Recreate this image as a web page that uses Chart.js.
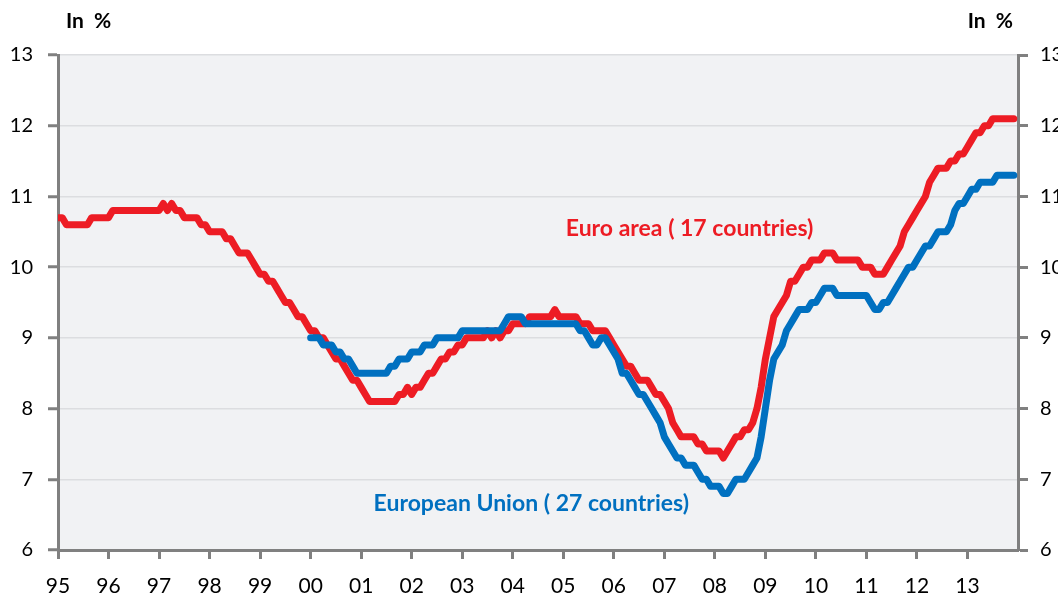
<!DOCTYPE html>
<html>
<head>
<meta charset="utf-8">
<script src="https://cdn.jsdelivr.net/npm/chart.js@4/dist/chart.umd.min.js"></script>
<style>
  html, body { margin: 0; padding: 0; background: #fff; }
  #wrap { width: 1058px; height: 597px; }
</style>
</head>
<body>
<div id="wrap"><canvas id="unemploymentChart"></canvas></div>
<script>
// Datos mensuales, tasa de paro (%), enero 1995 - diciembre 2013
const yearLabels = ['95', '96', '97', '98', '99', '00', '01', '02', '03', '04',
    '05', '06', '07', '08', '09', '10', '11', '12', '13'];

const euroArea = [
    10.7, 10.7, 10.6, 10.6, 10.6, 10.6, 10.6, 10.6, 10.7, 10.7, 10.7, 10.7, // 95
    10.7, 10.8, 10.8, 10.8, 10.8, 10.8, 10.8, 10.8, 10.8, 10.8, 10.8, 10.8, // 96
    10.8, 10.9, 10.8, 10.9, 10.8, 10.8, 10.7, 10.7, 10.7, 10.7, 10.6, 10.6, // 97
    10.5, 10.5, 10.5, 10.5, 10.4, 10.4, 10.3, 10.2, 10.2, 10.2, 10.1, 10.0, // 98
    9.9, 9.9, 9.8, 9.8, 9.7, 9.6, 9.5, 9.5, 9.4, 9.3, 9.3, 9.2,             // 99
    9.1, 9.1, 9.0, 9.0, 8.9, 8.8, 8.7, 8.7, 8.6, 8.5, 8.4, 8.4,             // 00
    8.3, 8.2, 8.1, 8.1, 8.1, 8.1, 8.1, 8.1, 8.1, 8.2, 8.2, 8.3,             // 01
    8.2, 8.3, 8.3, 8.4, 8.5, 8.5, 8.6, 8.7, 8.7, 8.8, 8.8, 8.9,             // 02
    8.9, 9.0, 9.0, 9.0, 9.0, 9.0, 9.1, 9.0, 9.1, 9.0, 9.1, 9.1,             // 03
    9.2, 9.2, 9.2, 9.2, 9.3, 9.3, 9.3, 9.3, 9.3, 9.3, 9.4, 9.3,             // 04
    9.3, 9.3, 9.3, 9.3, 9.2, 9.2, 9.2, 9.1, 9.1, 9.1, 9.1, 9.0,             // 05
    8.9, 8.8, 8.7, 8.6, 8.6, 8.5, 8.4, 8.4, 8.4, 8.3, 8.2, 8.2,             // 06
    8.1, 8.0, 7.8, 7.7, 7.6, 7.6, 7.6, 7.6, 7.5, 7.5, 7.4, 7.4,             // 07
    7.4, 7.4, 7.3, 7.4, 7.5, 7.6, 7.6, 7.7, 7.7, 7.8, 8.0, 8.3,             // 08
    8.7, 9.0, 9.3, 9.4, 9.5, 9.6, 9.8, 9.8, 9.9, 10.0, 10.0, 10.1,          // 09
    10.1, 10.1, 10.2, 10.2, 10.2, 10.1, 10.1, 10.1, 10.1, 10.1, 10.1, 10.0, // 10
    10.0, 10.0, 9.9, 9.9, 9.9, 10.0, 10.1, 10.2, 10.3, 10.5, 10.6, 10.7,    // 11
    10.8, 10.9, 11.0, 11.2, 11.3, 11.4, 11.4, 11.4, 11.5, 11.5, 11.6, 11.6, // 12
    11.7, 11.8, 11.9, 11.9, 12.0, 12.0, 12.1, 12.1, 12.1, 12.1, 12.1, 12.1  // 13
];

// UE-27 empieza en enero 2000 (mes 60)
const eu27StartMonth = 60;
const eu27 = [
    9.0, 9.0, 9.0, 8.9, 8.9, 8.9, 8.8, 8.8, 8.7, 8.7, 8.6, 8.5,             // 00
    8.5, 8.5, 8.5, 8.5, 8.5, 8.5, 8.5, 8.6, 8.6, 8.7, 8.7, 8.7,             // 01
    8.8, 8.8, 8.8, 8.9, 8.9, 8.9, 9.0, 9.0, 9.0, 9.0, 9.0, 9.0,             // 02
    9.1, 9.1, 9.1, 9.1, 9.1, 9.1, 9.1, 9.1, 9.1, 9.1, 9.2, 9.3,             // 03
    9.3, 9.3, 9.3, 9.2, 9.2, 9.2, 9.2, 9.2, 9.2, 9.2, 9.2, 9.2,             // 04
    9.2, 9.2, 9.2, 9.2, 9.1, 9.1, 9.0, 8.9, 8.9, 9.0, 9.0, 8.9,             // 05
    8.8, 8.7, 8.5, 8.5, 8.4, 8.3, 8.2, 8.2, 8.1, 8.0, 7.9, 7.8,             // 06
    7.6, 7.5, 7.4, 7.3, 7.3, 7.2, 7.2, 7.2, 7.1, 7.0, 7.0, 6.9,             // 07
    6.9, 6.9, 6.8, 6.8, 6.9, 7.0, 7.0, 7.0, 7.1, 7.2, 7.3, 7.6,             // 08
    8.0, 8.4, 8.7, 8.8, 8.9, 9.1, 9.2, 9.3, 9.4, 9.4, 9.4, 9.5,             // 09
    9.5, 9.6, 9.7, 9.7, 9.7, 9.6, 9.6, 9.6, 9.6, 9.6, 9.6, 9.6,             // 10
    9.6, 9.5, 9.4, 9.4, 9.5, 9.5, 9.6, 9.7, 9.8, 9.9, 10.0, 10.0,           // 11
    10.1, 10.2, 10.3, 10.3, 10.4, 10.5, 10.5, 10.5, 10.6, 10.8, 10.9, 10.9, // 12
    11.0, 11.1, 11.1, 11.2, 11.2, 11.2, 11.2, 11.3, 11.3, 11.3, 11.3, 11.3  // 13
];

const FONT = 'Lato, "Open Sans", sans-serif';
const RED = '#ED1C24';
const BLUE = '#0070C0';
const AXIS_GREY = '#808080';

// Fondo del área de gráfico y textos
const chartDecor = {
    id: 'chartDecor',
    beforeDraw(chart) {
        const { ctx, chartArea: a } = chart;
        ctx.save();
        ctx.fillStyle = '#F1F2F4';
        ctx.fillRect(a.left, a.top, a.right - a.left, a.bottom - a.top);
        ctx.restore();
    },
    afterDraw(chart) {
        const { ctx, scales } = chart;
        ctx.save();
        ctx.textBaseline = 'middle';
        ctx.fillStyle = '#000';
        ctx.font = 'bold 21px ' + FONT;
        ctx.textAlign = 'left';
        ctx.fillText('In  %', 66, 21);
        ctx.textAlign = 'right';
        ctx.fillText('In  %', 1013, 21);

        ctx.font = 'bold 23px ' + FONT;
        ctx.textAlign = 'center';
        ctx.fillStyle = RED;
        ctx.fillText('Euro area ( 17 countries)', scales.x.getPixelForValue(150), scales.y.getPixelForValue(10.55));
        ctx.fillStyle = BLUE;
        ctx.fillText('European Union ( 27 countries)', scales.x.getPixelForValue(112.4), scales.y.getPixelForValue(6.66));
        ctx.restore();
    }
};

const yTicks = {
    stepSize: 1,
    color: '#000',
    font: { family: FONT, size: 20 }
};

new Chart(document.getElementById('unemploymentChart'), {
    type: 'line',
    data: {
        datasets: [
            {
                label: 'European Union (27 countries)',
                data: eu27.map((v, k) => ({ x: eu27StartMonth + k, y: v })),
                borderColor: BLUE,
                borderWidth: 7,
                pointRadius: 0,
                borderJoinStyle: 'round',
                borderCapStyle: 'round'
            },
            {
                label: 'Euro area (17 countries)',
                data: euroArea.map((v, i) => ({ x: i, y: v })),
                borderColor: RED,
                borderWidth: 7,
                pointRadius: 0,
                borderJoinStyle: 'round',
                borderCapStyle: 'round'
            }
        ]
    },
    options: {
        responsive: true,
        maintainAspectRatio: false,
        animation: false,
        layout: { padding: { top: 55, left: 0, right: 0, bottom: 0 } },
        plugins: {
            legend: { display: false },
            tooltip: { enabled: false }
        },
        scales: {
            x: {
                type: 'linear',
                min: 0,
                max: 228,
                afterBuildTicks: scale => {
                    scale.ticks = yearLabels.map((_, k) => ({ value: k * 12 }));
                },
                ticks: {
                    autoSkip: false,
                    maxRotation: 0,
                    color: '#000',
                    padding: 15,
                    font: { family: FONT, size: 21 },
                    callback: value => yearLabels[Math.round(value / 12)]
                },
                grid: {
                    drawOnChartArea: false,
                    tickLength: 9,
                    tickColor: AXIS_GREY,
                    tickWidth: 3
                },
                border: { color: AXIS_GREY, width: 3 },
                afterFit: scale => { scale.height = 47; }
            },
            y: {
                position: 'left',
                min: 6,
                max: 13,
                ticks: { ...yTicks, padding: 15 },
                grid: {
                    color: '#DCDDE0',
                    lineWidth: 1.5,
                    tickLength: 10,
                    tickColor: AXIS_GREY,
                    tickWidth: 3
                },
                border: { color: AXIS_GREY, width: 3 },
                afterFit: scale => { scale.width = 58; }
            },
            y2: {
                position: 'right',
                min: 6,
                max: 13,
                ticks: { ...yTicks, padding: 12 },
                grid: {
                    drawOnChartArea: false,
                    tickLength: 10,
                    tickColor: AXIS_GREY,
                    tickWidth: 3
                },
                border: { color: AXIS_GREY, width: 3 },
                afterFit: scale => { scale.width = 40; }
            }
        }
    },
    plugins: [chartDecor]
});
</script>
</body>
</html>
